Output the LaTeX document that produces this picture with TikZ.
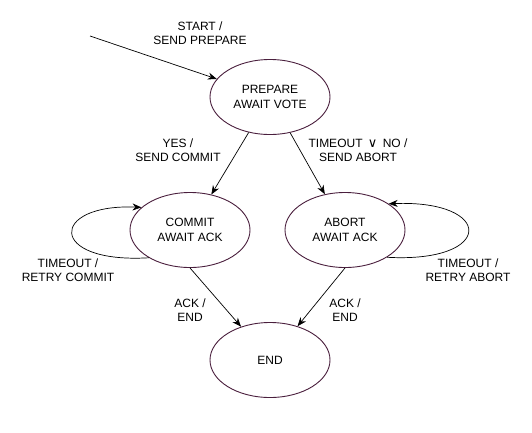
\documentclass[tikz,border=0pt]{standalone}
\usepackage{fontspec}
\setmainfont{Liberation Sans}
\newfontfamily\symfont{DejaVu Sans}
\usetikzlibrary{shapes.geometric,arrows.meta}
\definecolor{statecol}{HTML}{4A1F3D}
\tikzset{
  state/.style={ellipse, draw=statecol, line width=0.9pt, minimum width=120pt, minimum height=75pt, inner sep=0pt, align=center, font=\fontsize{12}{15}\selectfont},
  lbl/.style={align=center, font=\fontsize{12}{14.5}\selectfont, inner sep=0pt},
  trans/.style={draw=black, line width=0.7pt, -{Stealth[length=9pt,width=7pt]}}
}
\begin{document}
\begin{tikzpicture}[x=1pt,y=-1pt]
\useasboundingbox (0,0) rectangle (532,432);
\node[state] (prep) at (270,97) {PREPARE\\AWAIT VOTE};
\node[state] (commit) at (190,230) {COMMIT\\AWAIT ACK};
\node[state] (abort) at (345,230) {ABORT\\AWAIT ACK};
\node[state] (end) at (270,360) {END};
\coordinate (start) at (90,36);

\draw[trans] (start) -- (prep);
\draw[trans] (prep) -- (commit);
\draw[trans] (prep) -- (abort);
\draw[trans] (commit.south) -- (end);
\draw[trans] (abort.south) -- (end);
\draw[trans] (commit.214) .. controls +(-102,6) and +(-92,-4) .. (commit.155);
\draw[trans] (abort.327) .. controls +(108,6) and +(106,-4) .. (abort.31);

\node[lbl] (l1) at (200,33) {START /\\SEND PREPARE};
\node[lbl] (l2) at (178,150) {YES /\\SEND COMMIT};
\node[lbl] (l3) at (358,150) {TIMEOUT \,{\symfont\fontsize{13}{14}\selectfont ∨}\, NO /\\SEND ABORT};
\node[lbl] (l4) at (68,270) {TIMEOUT /\\RETRY COMMIT};
\node[lbl] (l5) at (468,270) {TIMEOUT /\\RETRY ABORT};
\node[lbl] (l6) at (190,310) {ACK /\\END};
\node[lbl] (l7) at (345,310) {ACK /\\END};
\end{tikzpicture}
\end{document}
